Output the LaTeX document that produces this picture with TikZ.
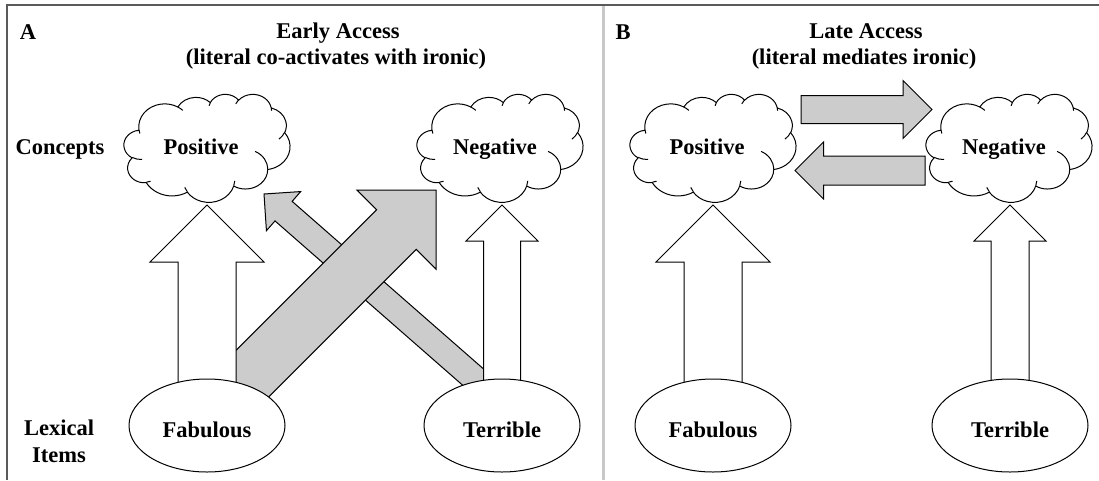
\documentclass[tikz,border=0pt]{standalone}
\usepackage{fontspec}
\setmainfont{Liberation Serif}
\usetikzlibrary{calc,shapes.geometric}
\definecolor{arrgray}{RGB}{204,204,204}
\definecolor{framegray}{RGB}{90,90,90}
\definecolor{sepgray}{RGB}{200,200,200}
\newcommand\cldW{166}
\newcommand\cldH{108}
% point of the cloud outline, given as fractions of its box
\newcommand\pp[2]{({(#1-0.5)*\cldW},{-(#2-0.5)*\cldH})}
% elliptic arc: radii as fractions, start angle and sweep in degrees (visual angles, y down)
\newcommand\oa[4]{arc[start angle={-atan2(#1*sin(#3),#2*cos(#3))}, delta angle={-Mod(atan2(#1*sin(#3+#4),#2*cos(#3+#4))-atan2(#1*sin(#3),#2*cos(#3)),360)}, x radius={#1*\cldW}, y radius={#2*\cldH}]}
\newcommand\cloudpath{%
 \pp{0.09028}{0.33264}
 \oa{0.15632}{0.21273}{-190.48748}{123.78053}
 \oa{0.12345}{0.16822}{-144.10238}{89.94523}
 \oa{0.10104}{0.13762}{-145.80792}{99.72302}
 \oa{0.11243}{0.15266}{-130.98607}{117.24173}
 \oa{0.12345}{0.16836}{-78.70888}{109.02692}
 \oa{0.15683}{0.21343}{-46.26725}{130.269}
 \oa{0.13391}{0.18211}{0.62502}{114.03333}
 \oa{0.15630}{0.21331}{22.4516}{115.17255}
 \oa{0.17870}{0.24405}{66.24263}{75.71102}
 \oa{0.10093}{0.13699}{-274.94208}{146.73557}
 \oa{0.10058}{0.13762}{-246.8285}{152.51885}
 -- cycle}
\newcommand\cloudinner{%
 \pp{0.10863}{0.60595} \oa{0.10058}{0.13762}{86.742}{26.4295}
 \pp{0.16037}{0.80785} \oa{0.10093}{0.13699}{73.61047}{11.44747}
 \pp{0.38144}{0.90486} \oa{0.15630}{0.21331}{137.62415}{14.0811}
 \pp{0.66729}{0.80442} \oa{0.15630}{0.21331}{6.45327}{15.99835}
 \pp{0.79002}{0.53134} \oa{0.13391}{0.18211}{-70.29235}{70.91737}
 \pp{0.96755}{0.35542} \oa{0.12345}{0.16836}{30.31803}{27.7515}
 \pp{0.88713}{0.12560} \oa{0.11243}{0.15266}{-13.74433}{14.8547}
 \pp{0.67310}{0.09148} \oa{0.11243}{0.15266}{-149.18145}{18.19537}
 \pp{0.51252}{0.10926} \oa{0.10104}{0.13762}{-163.49427}{17.68635}
 \pp{0.32407}{0.12019} \oa{0.15632}{0.21273}{-66.70695}{12.31935}
 \pp{0.09553}{0.36549} \oa{0.15632}{0.21273}{157.65435}{11.85817}
}
\newcommand\drawcloud[1]{%
  \begin{scope}[shift={(#1)}]
    \path[cloudline, fill=white] \cloudpath;
    \path[cloudline] \cloudinner;
  \end{scope}}
% block arrow: style, tip, tail, shaft half width, head half width (90 degree tip)
\newcommand\blockarrow[5]{%
  \path[#1] (#2) -- ($(#2)!#5pt!(#3)!#5pt!90:(#3)$) -- ($(#2)!#5pt!(#3)!#4pt!90:(#3)$)
    -- ($(#3)!#4pt!-90:(#2)$) -- ($(#3)!#4pt!90:(#2)$)
    -- ($(#2)!#5pt!(#3)!#4pt!-90:(#3)$) -- ($(#2)!#5pt!(#3)!#5pt!-90:(#3)$) -- cycle;}
\tikzset{
  ln/.style={draw=black, line width=1pt, line join=miter},
  whitearr/.style={ln, fill=white},
  grayarr/.style={ln, fill=arrgray},
  cloudline/.style={draw=black, line width=1pt},
  lbl/.style={font=\fontsize{22.5}{27}\selectfont\bfseries, inner sep=0pt},
  cloudlbl/.style={lbl, text height=15pt, text depth=3pt},
  lexitem/.style={ellipse, draw=black, line width=1pt, fill=white, minimum width=156pt,
    minimum height=93pt, inner sep=0pt, text height=23pt, text depth=0pt,
    font=\fontsize{22.5}{27}\selectfont\bfseries},
}
\begin{document}
\begin{tikzpicture}[x=1pt, y=1pt]
\useasboundingbox (0,0) rectangle (1099,-480);
\fill[white] (0,0) rectangle (1099,-480);
% frame and separator
\draw[framegray, line width=1.5pt] (7,-480) -- (7,-5) -- (1099,-5);
\draw[sepgray, line width=3pt] (603,-6) -- (603,-480);

% ---------- panel A ----------
\node[lbl, anchor=base] (labA) at (28,-39) {A};
\node[lbl, anchor=base] (titA1) at (338,-38) {Early Access};
\node[lbl, anchor=base] (titA2) at (336,-64) {(literal co-activates with ironic)};
\node[lbl, anchor=base] (conc) at (60,-154) {Concepts};
\node[lbl, anchor=base] (lex1) at (59,-435) {Lexical};
\node[lbl, anchor=base] (lex2) at (59,-462) {Items};

\coordinate (cP1) at (207,-148);
\coordinate (cN1) at (500,-148);
\drawcloud{cP1}
\drawcloud{cN1}
\node[cloudlbl] (pos1) at ($(cP1)+(-6,0)$) {Positive};
\node[cloudlbl] (neg1) at ($(cN1)+(-5,0)$) {Negative};

\coordinate (fabc1) at (207,-425.5);
\coordinate (terc1) at (502,-425.5);
\coordinate (tP1) at (207,-205);
\coordinate (tN1) at (502,-205);
\coordinate (gB1) at (436,-190);
\coordinate (gB0) at (224,-402);
\coordinate (gT1) at (264,-194);
\coordinate (gT0) at (497,-398);

\blockarrow{grayarr}{gT1}{gT0}{13}{26}
\blockarrow{grayarr}{gB1}{gB0}{28}{56}
\blockarrow{whitearr}{tP1}{fabc1}{29}{57}
\blockarrow{whitearr}{tN1}{terc1}{18.5}{36}

\node[lexitem] (fab1) at (fabc1) {Fabulous};
\node[lexitem] (ter1) at (terc1) {Terrible};

% ---------- panel B ----------
\node[lbl, anchor=base] (labB) at (623,-39) {B};
\node[lbl, anchor=base] (titB1) at (866,-38) {Late Access};
\node[lbl, anchor=base] (titB2) at (864,-64) {(literal mediates ironic)};

\coordinate (cP2) at (713,-148);
\coordinate (cN2) at (1009,-148);
\drawcloud{cP2}
\drawcloud{cN2}
\node[cloudlbl] (pos2) at ($(cP2)+(-6,0)$) {Positive};
\node[cloudlbl] (neg2) at ($(cN2)+(-5,0)$) {Negative};

\coordinate (fabc2) at (713,-425.5);
\coordinate (terc2) at (1010,-425.5);
\coordinate (tP2) at (713,-205);
\coordinate (tN2) at (1010,-205);
\coordinate (hR1) at (932,-109.5);
\coordinate (hR0) at (801,-109.5);
\coordinate (hL1) at (795,-170.5);
\coordinate (hL0) at (925,-170.5);

\blockarrow{grayarr}{hR1}{hR0}{14}{29}
\blockarrow{grayarr}{hL1}{hL0}{14.5}{28.5}
\blockarrow{whitearr}{tP2}{fabc2}{29}{57}
\blockarrow{whitearr}{tN2}{terc2}{19}{36}

\node[lexitem] (fab2) at (fabc2) {Fabulous};
\node[lexitem] (ter2) at (terc2) {Terrible};
\end{tikzpicture}
\end{document}
